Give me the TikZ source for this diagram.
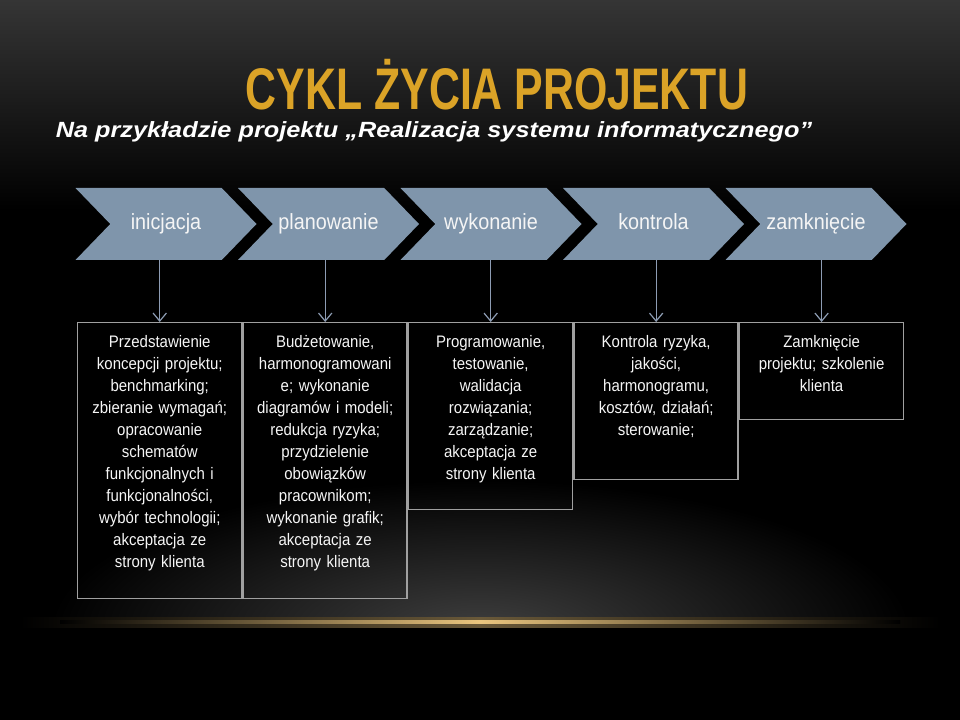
\documentclass[tikz,border=0pt]{standalone}
\usepackage{fontspec}
\setmainfont{Liberation Sans}
\newfontfamily\narrowfont[FakeStretch=0.9]{Liberation Sans}
\newfontfamily\titlefont[FakeStretch=0.73]{Liberation Sans Bold}
\newfontfamily\subfont[FakeStretch=1.15]{Liberation Sans Bold Italic}
\usepackage{tikz}
\usetikzlibrary{arrows.meta,positioning,shapes.symbols}
\definecolor{chevx}{HTML}{7F95AB}
\definecolor{arrx}{HTML}{8D9CB3}
\definecolor{framex}{HTML}{A0A0A0}
\definecolor{titlex}{HTML}{DBA327}
\definecolor{topx}{HTML}{353535}
\definecolor{glowx}{HTML}{3E3E3E}
\definecolor{goldx}{HTML}{EBC67F}
\tikzset{
  chev/.style={signal,signal from=west,signal to=east,signal pointer angle=92,fill=chevx,minimum width=135.75pt,minimum height=54pt,inner sep=0pt,text height=12pt,text depth=3.5pt,text=white!92!gray,font=\narrowfont\fontsize{16.5}{18}\selectfont},
  box/.style={draw=framex,line width=1.1pt,text width=115.5pt,inner xsep=3.75pt,inner ysep=4.5pt,text height=14.25pt,align=center,anchor=north west,text=white!93!gray,font=\narrowfont\fontsize{12.5}{16.5}\selectfont},
  ar/.style={-{Straight Barb[length=6pt,width=10pt]},line width=0.9pt,arrx},
  ttl/.style={anchor=base,text=titlex,font=\titlefont\fontsize{44}{48}\selectfont,inner sep=0pt},
  sub/.style={anchor=base,text=white,font=\subfont\fontsize{16.5}{18}\selectfont,inner sep=0pt}
}
\begin{document}
\begin{tikzpicture}[x=0.75pt,y=-0.75pt]
% background
\fill[black] (0,0) rectangle (960,720);
\shade[top color=topx,bottom color=black] (0,0) rectangle (960,210);
\begin{scope}
\clip (0,400) rectangle (960,622);
\shade[inner color=glowx,outer color=black] (480,630) ellipse (430 and 150);
\end{scope}
\shade[left color=black,right color=black,middle color=goldx!45!black] (20,617) rectangle (940,627);
\shade[left color=black,right color=black,middle color=goldx] (60,620.5) rectangle (900,623.5);

\node[ttl] (title) at (497,110) {CYKL ŻYCIA PROJEKTU};
\node[sub] (sub) at (434,138) {Na przykładzie projektu „Realizacja systemu informatycznego”};

\foreach \n/\t [count=\i from 0] in {1/inicjacja,2/planowanie,3/wykonanie,4/kontrola,5/zamknięcie}
  \node[chev] (c\n) at (166+162.5*\i,224) {\t};

\node[box,text depth=183.75pt] (b1) at (77,322) {Przedstawienie\\ koncepcji projektu;\\ benchmarking;\\ zbieranie wymagań;\\ opracowanie\\ schematów\\ funkcjonalnych i\\ funkcjonalności,\\ wybór technologii;\\ akceptacja ze\\ strony klienta};
\node[box,text depth=183.75pt] (b2) at (b1.north east) {Budżetowanie,\\ harmonogramowani\\ e; wykonanie\\ diagramów i modeli;\\ redukcja ryzyka;\\ przydzielenie\\ obowiązków\\ pracownikom;\\ wykonanie grafik;\\ akceptacja ze\\ strony klienta};
\node[box,text depth=117pt] (b3) at (b2.north east) {Programowanie,\\ testowanie,\\ walidacja\\ rozwiązania;\\ zarządzanie;\\ akceptacja ze\\ strony klienta};
\node[box,text depth=94.5pt] (b4) at (b3.north east) {Kontrola ryzyka,\\ jakości,\\ harmonogramu,\\ kosztów, działań;\\ sterowanie;};
\node[box,text depth=49.5pt] (b5) at (b4.north east) {Zamknięcie\\ projektu; szkolenie\\ klienta};

\foreach \n in {1,...,5}
  \draw[ar] (c\n.south -| b\n.north) -- (b\n.north);
\end{tikzpicture}
\end{document}
